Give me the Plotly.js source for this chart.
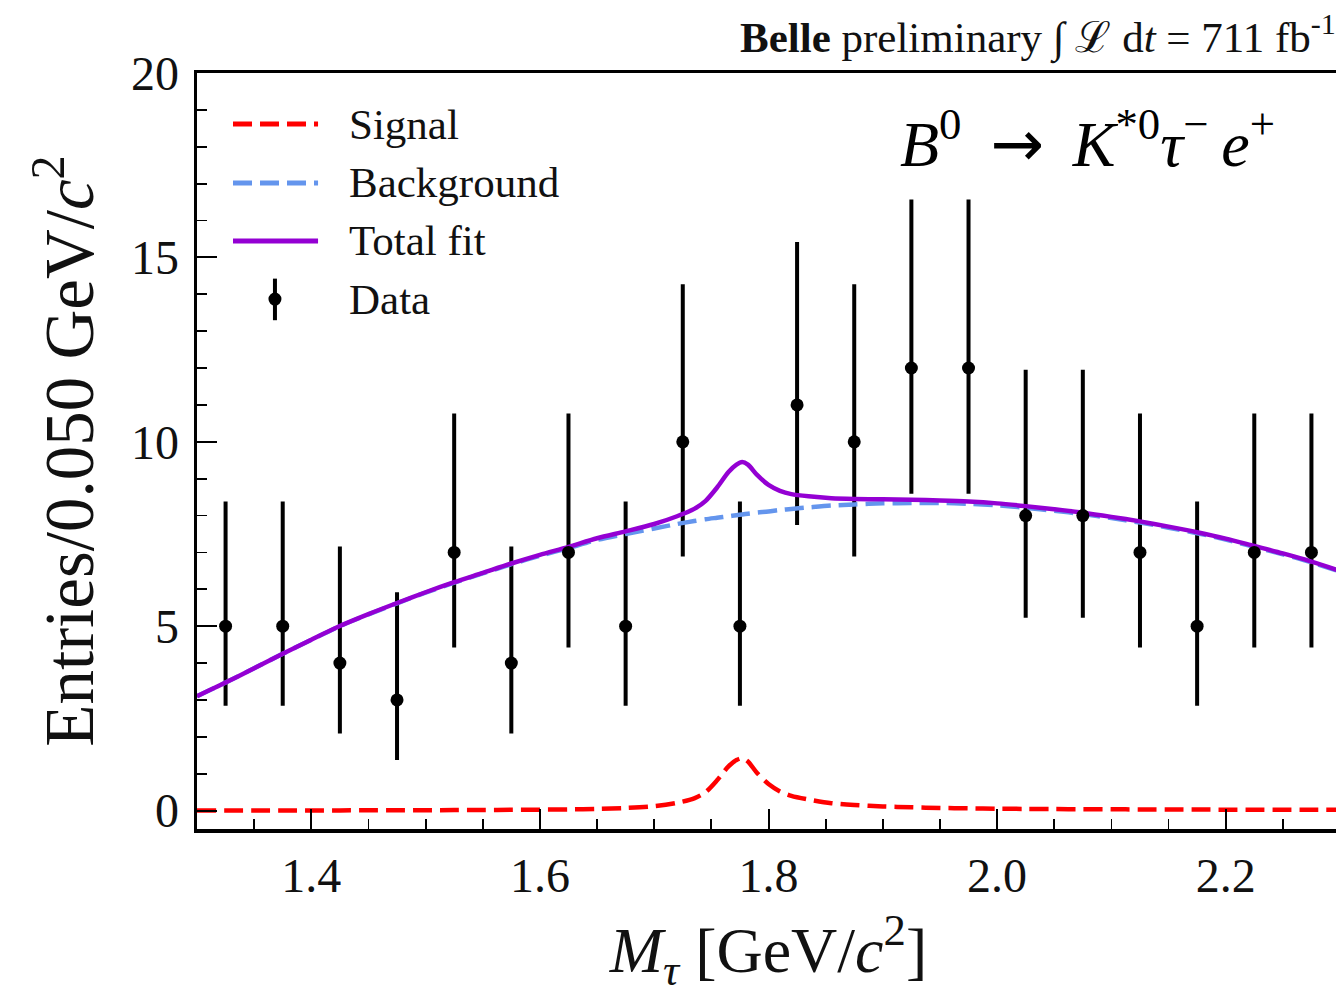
<!DOCTYPE html>
<html>
<head>
<meta charset="utf-8">
<script src="https://cdn.plot.ly/plotly-3.0.1.min.js"></script>
<style>
html, body { margin: 0; padding: 0; background: #fff; overflow: hidden; }
#chart { width: 1344px; height: 995px; }
</style>
</head>
<body>
<div id="chart"></div>
<script>
// ---- Data ----
const binCenters = [1.325, 1.375, 1.425, 1.475, 1.525, 1.575, 1.625, 1.675, 1.725, 1.775,
                    1.825, 1.875, 1.925, 1.975, 2.025, 2.075, 2.125, 2.175, 2.225, 2.275];
const counts     = [5, 5, 4, 3, 7, 4, 7, 5, 10, 5, 11, 10, 12, 12, 8, 8, 7, 5, 7, 7];
const errLow     = [2.84, 2.84, 2.09, 1.37, 4.42, 2.09, 4.42, 2.84, 6.89, 2.84,
                    7.74, 6.89, 8.59, 8.59, 5.23, 5.23, 4.42, 2.84, 4.42, 4.42];
const errHigh    = [8.38, 8.38, 7.16, 5.92, 10.77, 7.16, 10.77, 8.38, 14.27, 8.38,
                    15.42, 14.27, 16.57, 16.57, 11.95, 11.95, 10.77, 8.38, 10.77, 10.77];

const fitX = [1.300, 1.325, 1.350, 1.375, 1.400, 1.425, 1.450, 1.475, 1.500, 1.525,
              1.550, 1.575, 1.600, 1.625, 1.650, 1.675, 1.700, 1.720, 1.735, 1.745,
              1.755, 1.765, 1.772, 1.777, 1.782, 1.790, 1.800, 1.810, 1.820, 1.835,
              1.855, 1.875, 1.900, 1.925, 1.950, 1.975, 2.000, 2.025, 2.050, 2.075,
              2.100, 2.125, 2.150, 2.175, 2.200, 2.225, 2.250, 2.275, 2.300];
const backgroundY = [3.10, 3.47, 3.86, 4.25, 4.63, 5.00, 5.32, 5.62, 5.91, 6.18,
                     6.43, 6.68, 6.91, 7.12, 7.34, 7.50, 7.65, 7.77, 7.85, 7.90,
                     7.94, 7.98, 8.01, 8.03, 8.05, 8.08, 8.11, 8.15, 8.18, 8.22,
                     8.27, 8.30, 8.33, 8.34, 8.34, 8.32, 8.28, 8.21, 8.13, 8.04,
                     7.93, 7.81, 7.67, 7.52, 7.35, 7.15, 6.95, 6.73, 6.48];
const signalY = [0.000, 0.000, 0.000, 0.002, 0.004, 0.005, 0.006, 0.008, 0.010, 0.012,
                 0.015, 0.020, 0.025, 0.030, 0.045, 0.070, 0.120, 0.210, 0.330, 0.500,
                 0.820, 1.200, 1.370, 1.420, 1.330, 1.020, 0.720, 0.520, 0.400, 0.300,
                 0.200, 0.150, 0.110, 0.090, 0.070, 0.060, 0.050, 0.045, 0.040, 0.037,
                 0.034, 0.031, 0.029, 0.027, 0.025, 0.024, 0.022, 0.021, 0.020];
const totalY = fitX.map((_, i) => backgroundY[i] + signalY[i]);

const xTickVals = [1.4, 1.6, 1.8, 2.0, 2.2];
const xTickText = ['1.4', '1.6', '1.8', '2.0', '2.2'];
const yTickVals = [0, 5, 10, 15, 20];
const yTickText = ['0', '5', '10', '15', '20'];

const legendLabels = ['Signal', 'Background', 'Total fit', 'Data'];

// ---- Styles ----
const RED = '#ff0000', BLUE = '#6495ed', PURPLE = '#9400d3';
const FONT = '"Liberation Serif", "DejaVu Serif", serif';
const DASH = '19px,8px';

const errPlus = counts.map((c, i) => errHigh[i] - c);
const errMinus = counts.map((c, i) => c - errLow[i]);

const traces = [
  { x: binCenters, y: counts, type: 'scatter', mode: 'markers',
    marker: { size: 1, color: 'rgba(0,0,0,0)' },
    error_y: { type: 'data', symmetric: false, array: errPlus, arrayminus: errMinus,
               thickness: 4, width: 0, color: '#000' },
    showlegend: false, hoverinfo: 'skip' },
  { x: fitX, y: signalY, type: 'scatter', mode: 'lines', name: 'Signal',
    line: { color: RED, width: 4.5, dash: DASH, shape: 'spline', smoothing: 0.8 }, showlegend: false },
  { x: fitX, y: backgroundY, type: 'scatter', mode: 'lines', name: 'Background',
    line: { color: BLUE, width: 4.5, dash: DASH, shape: 'spline', smoothing: 0.8 }, showlegend: false },
  { x: fitX, y: totalY, type: 'scatter', mode: 'lines', name: 'Total fit',
    line: { color: PURPLE, width: 4.5, shape: 'spline', smoothing: 0.8 }, showlegend: false },
  { x: binCenters, y: counts, type: 'scatter', mode: 'markers', name: 'Data',
    marker: { size: 13, color: '#000' }, showlegend: false }
];

// manual legend (paper coords)
const legX0 = 0.0315, legX1 = 0.1059, legMarkX = 0.0682;
const legRows = [0.9325, 0.8545, 0.7778, 0.7010];
const shapes = [
  { type: 'line', xref: 'paper', yref: 'paper', x0: legX0, x1: legX1, y0: legRows[0], y1: legRows[0],
    line: { color: RED, width: 5, dash: DASH } },
  { type: 'line', xref: 'paper', yref: 'paper', x0: legX0, x1: legX1, y0: legRows[1], y1: legRows[1],
    line: { color: BLUE, width: 5, dash: DASH } },
  { type: 'line', xref: 'paper', yref: 'paper', x0: legX0, x1: legX1, y0: legRows[2], y1: legRows[2],
    line: { color: PURPLE, width: 5 } },
  { type: 'line', xref: 'paper', yref: 'paper', x0: legMarkX, x1: legMarkX, y0: legRows[3] - 0.028, y1: legRows[3] + 0.027,
    line: { color: '#000', width: 4 } },
  { type: 'circle', xref: 'paper', yref: 'paper', xsizemode: 'pixel', ysizemode: 'pixel',
    xanchor: legMarkX, yanchor: legRows[3], x0: -6.5, x1: 6.5, y0: -6.5, y1: 6.5,
    fillcolor: '#000', line: { color: '#000', width: 0 } }
];

const annotations = legendLabels.map((t, i) => ({
  text: t, xref: 'paper', yref: 'paper', x: 0.1313, y: legRows[i],
  xanchor: 'left', yanchor: 'middle', showarrow: false,
  font: { family: FONT, size: 43, color: '#111' }
}));
annotations.push({
  text: '<b>Belle</b> preliminary ∫ ℒ d<i>t</i> = 711 fb<sup>-1</sup>',
  xref: 'paper', yref: 'paper', x: 0.473, y: 1.049, xanchor: 'left', yanchor: 'middle',
  showarrow: false, font: { family: FONT, size: 43, color: '#111' }
});
annotations.push({
  text: '<i>B</i><sup>0</sup>\u2009 <span style="font-family:\'DejaVu Sans\'">→</span> \u2009' +
        '<i>K</i><sup>*0</sup><i>τ</i><sup>−</sup>\u2009<i>e</i><sup>+</sup>',
  xref: 'paper', yref: 'paper', x: 0.613, y: 0.912, xanchor: 'left', yanchor: 'middle',
  showarrow: false, font: { family: FONT, size: 64, color: '#000' }
});

const axisCommon = {
  showgrid: false, zeroline: false, showline: true, linecolor: '#000', linewidth: 3.5,
  mirror: true, ticks: 'inside', ticklen: 20, tickwidth: 2, tickcolor: '#000',
  tickfont: { family: FONT, size: 48, color: '#111' }
};

const layout = {
  width: 1344, height: 995,
  margin: { l: 197, r: 4, t: 73, b: 166 },
  paper_bgcolor: '#fff', plot_bgcolor: '#fff',
  showlegend: false,
  xaxis: Object.assign({}, axisCommon, {
    range: [1.3, 2.3], tickmode: 'array', tickvals: xTickVals, ticktext: xTickText,
    ticklabelstandoff: 2,
    minor: { dtick: 0.05, ticks: 'inside', ticklen: 10, tickwidth: 1.8, tickcolor: '#000', showgrid: false },
    title: { text: '<i>M</i><sub><i>τ</i></sub> [GeV/<i>c</i><sup>2</sup>]', standoff: 44,
             font: { family: FONT, size: 64, color: '#111' } }
  }),
  yaxis: Object.assign({}, axisCommon, {
    range: [-0.5, 20], tickmode: 'array', tickvals: yTickVals, ticktext: yTickText,
    ticklabelstandoff: 5,
    minor: { dtick: 1, ticks: 'inside', ticklen: 10, tickwidth: 1.8, tickcolor: '#000', showgrid: false },
    title: { text: 'Entries/0.050 GeV/<i>c</i><sup>2</sup>', standoff: 16,
             font: { family: FONT, size: 69, color: '#111' } }
  }),
  shapes: shapes,
  annotations: annotations
};

Plotly.newPlot('chart', traces, layout, { displayModeBar: false, staticPlot: true });
</script>
</body>
</html>
